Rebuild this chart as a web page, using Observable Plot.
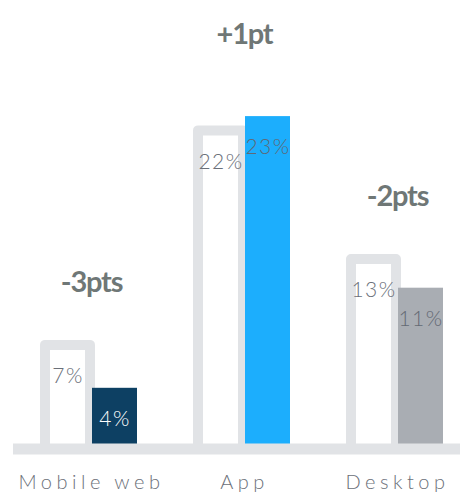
<!DOCTYPE html>
<html>
<head>
<meta charset="utf-8">
<script src="https://cdn.jsdelivr.net/npm/d3@7"></script>
<script src="https://cdn.jsdelivr.net/npm/@observablehq/plot@0.6"></script>
<style>
  html, body { margin: 0; padding: 0; background: #ffffff; }
  svg { display: block; }
</style>
</head>
<body>
<div id="chart"></div>
<script>
// ---- data ----
const categories = ["Mobile web", "App", "Desktop"];
const previous = [7, 22, 13];   // previous share (%), outlined bars
const current = [4, 23, 11];    // current share (%), filled bars

// ---- style constants ----
const barColors = ["#0d4063", "#1caefd", "#a9adb3"];
const currentLabelColors = ["#ffffff", "#5e6a78", "#646a73"];
const outlineColor = "#e1e3e6";
const labelGrey = "#6b7079";
const deltaGrey = "#6f7776";

const data = categories.map((c, i) => ({
  category: c,
  prev: previous[i],
  cur: current[i],
  idx: i
}));

const fmtDelta = d => {
  const v = d.cur - d.prev;
  return (v > 0 ? "+" : "") + v + (Math.abs(v) === 1 ? "pt" : "pts");
};
const groupMax = d => Math.max(d.prev, d.cur);
const topMax = d3.max(data, groupMax);

const chart = Plot.plot({
  width: 460,
  height: 496,
  marginLeft: 45,
  marginRight: 17,
  marginTop: 16,
  marginBottom: 51,
  style: { fontFamily: "Lato, 'Open Sans', sans-serif", background: "#ffffff" },
  x: { domain: categories, paddingInner: 61 / 153, paddingOuter: 0, axis: null },
  y: { domain: [0, 30], axis: null },
  marks: [
    Plot.barY(data, {
      x: "category", y: "prev",
      insetRight: 47, insetBottom: -4,
      fill: "#ffffff", stroke: outlineColor, strokeWidth: 10, strokeLinejoin: "round"
    }),
    Plot.barY(data, {
      x: "category", y: "cur",
      insetLeft: 47,
      fill: d => barColors[d.idx]
    }),
    Plot.ruleY([0], {
      stroke: outlineColor, strokeWidth: 11, dy: 3.5, insetLeft: -32, insetRight: -17
    }),
    Plot.text(data, {
      x: "category", y: "prev", text: d => d.prev + "%",
      dx: -23.5, dy: 31, fontSize: 21, fontWeight: 300, fill: labelGrey
    }),
    Plot.text(data, {
      x: "category", y: "cur", text: d => d.cur + "%",
      dx: 23.5, dy: 31, fontSize: 21, fontWeight: 300, fill: d => currentLabelColors[d.idx]
    }),
    Plot.text(data.filter(d => groupMax(d) < topMax), {
      x: "category", y: groupMax, text: fmtDelta,
      dy: -63, fontSize: 29, fontWeight: 700, fill: deltaGrey
    }),
    Plot.text(data.filter(d => groupMax(d) === topMax), {
      x: "category", frameAnchor: "top", lineAnchor: "middle", text: fmtDelta,
      dy: 18, fontSize: 29, fontWeight: 700, fill: deltaGrey
    }),
    Plot.text(data, {
      x: "category", frameAnchor: "bottom", lineAnchor: "middle", text: "category",
      dy: 37, fontSize: 20, fontWeight: 300, fill: labelGrey
    })
  ]
});

// letter-spacing per label kind (Plot's text mark has no letterSpacing option)
d3.select(chart).selectAll("text").each(function () {
  const t = this.textContent;
  let ls = null;
  if (categories.includes(t)) ls = "4.5px";
  else if (t.endsWith("%")) ls = "1.5px";
  else if (t.includes("pt")) ls = "-1.2px";
  if (ls) this.setAttribute("letter-spacing", ls);
});

document.getElementById("chart").appendChild(chart);
</script>
</body>
</html>
